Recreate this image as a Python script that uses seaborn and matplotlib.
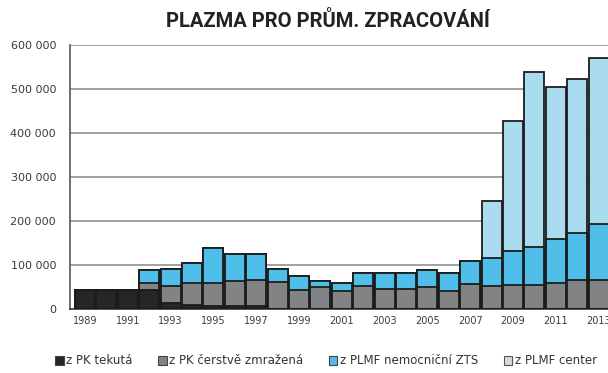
import numpy as np
import pandas as pd
import matplotlib
matplotlib.use("Agg")
import matplotlib.pyplot as plt
import seaborn as sns
from matplotlib.patches import Patch

years = list(range(1989, 2014))
pk_tekuta = [43000, 43000, 44000, 43000, 14000, 9000, 6000, 6000, 6000, 0,
             0, 0, 0, 0, 0, 0, 0, 0, 0, 0,
             0, 0, 0, 0, 0]
pk_zmrazena = [0, 0, 0, 16000, 38000, 50000, 53000, 58000, 60000, 62000,
               43000, 49000, 42000, 52000, 46000, 46000, 49000, 42000, 57000, 53000,
               54000, 54000, 58000, 65000, 66000]
plmf_nemocnicni = [0, 0, 0, 29000, 40000, 45000, 79000, 61000, 59000, 30000,
                   33000, 15000, 16000, 30000, 35000, 35000, 40000, 39000, 53000, 62000,
                   78000, 87000, 100000, 107000, 127000]
plmf_center = [0, 0, 0, 0, 0, 0, 0, 0, 0, 0,
               0, 0, 0, 0, 0, 0, 0, 0, 0, 130000,
               296000, 397000, 346000, 350000, 377000]

series_names = ["z PK tekutá", "z PK čerstvě zmražená", "z PLMF nemocniční ZTS", "z PLMF center"]
series_colors = ["#242628", "#828385", "#4fbfe9", "#a9dcef"]
edge = "#1c1c1c"

sns.set_theme(style="white")
plt.rcParams['font.family'] = ['DejaVu Sans']

df = pd.DataFrame({
    "rok": [str(y) for y in years],
    series_names[0]: pk_tekuta,
    series_names[1]: pk_zmrazena,
    series_names[2]: plmf_nemocnicni,
    series_names[3]: plmf_center,
})
cum = df[series_names].cumsum(axis=1)

fig = plt.figure(figsize=(6.08, 3.73), dpi=100)
ax = fig.add_axes([70 / 608, 64 / 373, 543.6 / 608, 264 / 373])

# stacked bars: draw cumulative totals from the top layer down
for name, col in zip(reversed(series_names), reversed(series_colors)):
    sns.barplot(x=df["rok"], y=cum[name], color=col, saturation=1, width=0.93,
                edgecolor=edge, linewidth=1.3, ax=ax, zorder=3)

ax.set_xlim(-0.7, 24.7)
ax.set_ylim(0, 600000)
yt = np.arange(0, 600001, 100000)
ax.set_yticks(yt)
ax.set_yticklabels([f"{int(v):,}".replace(",", " ") for v in yt], fontsize=8, color="#3a3a3a")
for v in yt[1:]:
    ax.axhline(v, color="#9a9a9a", lw=1.3, zorder=1)

idx = np.arange(len(years))
ax.set_xticks(idx[::2])
ax.set_xticklabels([str(y) for y in years[::2]], fontsize=7, color="#3a3a3a")
ax.set_xticks(np.arange(-0.5, len(years), 1), minor=True)
ax.tick_params(axis="x", which="major", length=0, pad=5)
ax.tick_params(axis="x", which="minor", length=3, width=0.8, color="#555555", direction="out")
ax.tick_params(axis="y", which="major", length=5, width=1.0, color="#888888", pad=5)
ax.set_xlabel("")
ax.set_ylabel("")

for s in ["top", "right"]:
    ax.spines[s].set_visible(False)
ax.spines["left"].set_color("#555555")
ax.spines["left"].set_linewidth(1.2)
ax.spines["bottom"].set_color("#333333")
ax.spines["bottom"].set_linewidth(1.2)

fig.text(328 / 608, 1 - 21 / 373, "PLAZMA PRO PRŮM. ZPRACOVÁNÍ", ha="center", va="center",
         fontsize=14.5, fontweight="bold", color="#222222", family=["Roboto", "DejaVu Sans"])

handles = [Patch(facecolor=c, edgecolor="#444444", linewidth=0.8) for c in series_colors]
handles[3] = Patch(facecolor="#d8d8d8", edgecolor="#555555", linewidth=0.8)
fig.legend(handles, series_names, loc="center", bbox_to_anchor=(326 / 608, 1 - 361 / 373),
           ncol=4, frameon=False, fontsize=8.5, handlelength=0.7, handleheight=0.7,
           handletextpad=0.2, columnspacing=2.2, labelcolor="#333333",
           borderpad=0, borderaxespad=0)

fig.savefig("out.png", dpi=100)
